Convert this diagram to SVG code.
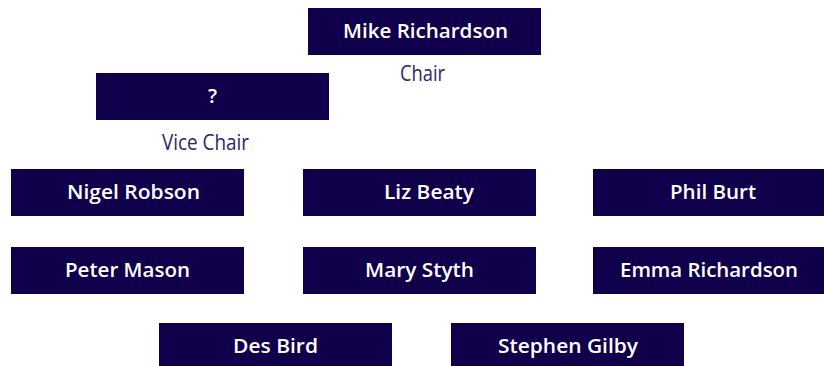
<svg xmlns="http://www.w3.org/2000/svg" width="824" height="366" viewBox="0 0 824 366">
<style>
.box{fill:#10004c}
.name{font-family:"Open Sans","Liberation Sans",sans-serif;font-weight:600;font-size:20px;fill:#ffffff;text-anchor:middle}
.role{font-family:"Open Sans","Liberation Sans",sans-serif;font-size:22px;fill:#2b2566;text-anchor:middle}
</style>
<rect width="824" height="366" fill="#ffffff"/>
<g id="connectors"></g>
<g id="mike"><rect class="box" x="308" y="8" width="233" height="47"/><text class="name" x="425.5" y="38" textLength="165" lengthAdjust="spacingAndGlyphs">Mike Richardson</text><text class="role" x="422.5" y="81" textLength="45" lengthAdjust="spacingAndGlyphs">Chair</text></g>
<g id="vice"><rect class="box" x="96" y="73" width="233" height="47"/><text class="name" x="212.5" y="103">?</text><text class="role" x="205.5" y="150" textLength="87" lengthAdjust="spacingAndGlyphs">Vice Chair</text></g>
<g id="nigel"><rect class="box" x="11" y="169" width="233" height="47"/><text class="name" x="133.5" y="199" textLength="133" lengthAdjust="spacingAndGlyphs">Nigel Robson</text></g>
<g id="liz"><rect class="box" x="303" y="169" width="233" height="47"/><text class="name" x="429" y="199" textLength="90" lengthAdjust="spacingAndGlyphs">Liz Beaty</text></g>
<g id="phil"><rect class="box" x="593" y="169" width="233" height="47"/><text class="name" x="713" y="199" textLength="86" lengthAdjust="spacingAndGlyphs">Phil Burt</text></g>
<g id="peter"><rect class="box" x="11" y="247" width="233" height="47"/><text class="name" x="127.5" y="277" textLength="125" lengthAdjust="spacingAndGlyphs">Peter Mason</text></g>
<g id="mary"><rect class="box" x="303" y="247" width="233" height="47"/><text class="name" x="419.5" y="277" textLength="109" lengthAdjust="spacingAndGlyphs">Mary Styth</text></g>
<g id="emma"><rect class="box" x="593" y="247" width="233" height="47"/><text class="name" x="709" y="277" textLength="178" lengthAdjust="spacingAndGlyphs">Emma Richardson</text></g>
<g id="des"><rect class="box" x="159" y="323" width="233" height="47"/><text class="name" x="275.5" y="353" textLength="85" lengthAdjust="spacingAndGlyphs">Des Bird</text></g>
<g id="stephen"><rect class="box" x="451" y="323" width="233" height="47"/><text class="name" x="568" y="353" textLength="140" lengthAdjust="spacingAndGlyphs">Stephen Gilby</text></g>
</svg>
